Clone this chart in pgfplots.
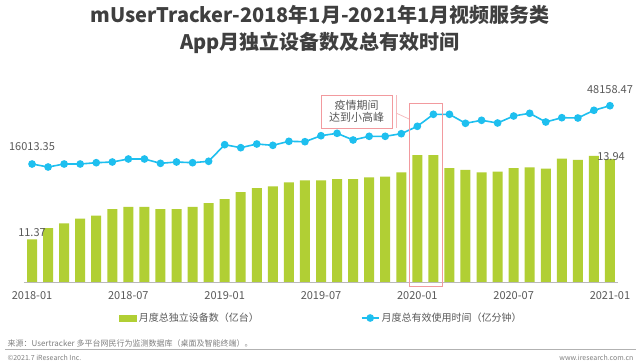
\documentclass[border=0pt]{standalone}
\usepackage{pgfplots}
\pgfplotsset{compat=1.18}
\usepackage{fontspec}
\setmainfont{Noto Sans CJK SC}
\definecolor{bargreen}{HTML}{B1CF34}
\definecolor{lineblue}{HTML}{1EBFEF}
\definecolor{txtgray}{HTML}{595959}
\definecolor{titlegray}{HTML}{3F3F3F}
\definecolor{boxred}{HTML}{F29A9E}
\begin{document}
\begin{tikzpicture}[x=1pt,y=1pt]
\path[use as bounding box, fill=white] (0,0) rectangle (640,364);
\node[font=\bfseries\fontsize{20}{24}\selectfont, text=titlegray] at (320,349) {mUserTracker-2018年1月-2021年1月视频服务类};
\node[font=\bfseries\fontsize{20}{24}\selectfont, text=titlegray] at (320,321) {App月独立设备数及总有效时间};

\begin{axis}[at={(24pt,82pt)}, anchor=south west, scale only axis,
  width=594pt, height=192pt,
  xmin=-0.5, xmax=36.5, ymin=10, ymax=16.16,
  axis x line*=bottom, axis y line=none,
  x axis line style={draw=gray!55, line width=0.8pt},
  xtick={0,6,...,36},
  xticklabels={2018-01,2018-07,2019-01,2019-07,2020-01,2020-07,2021-01},
  major tick length=0pt,
  xticklabel style={font=\fontsize{11}{13}\selectfont, text=txtgray, yshift=-6pt},
  clip=false]
\addplot[ybar, bar width=10pt, fill=bargreen, draw=none] coordinates {
(0,11.37) (1,11.73) (2,11.88) (3,12.03) (4,12.13) (5,12.34) (6,12.41) (7,12.41) (8,12.34) (9,12.34)
(10,12.41) (11,12.53) (12,12.66) (13,12.88) (14,13.01) (15,13.07) (16,13.20) (17,13.26) (18,13.26) (19,13.30)
(20,13.30) (21,13.36) (22,13.38) (23,13.52) (24,14.07) (25,14.07) (26,13.65) (27,13.60) (28,13.52) (29,13.54)
(30,13.65) (31,13.68) (32,13.64) (33,13.96) (34,13.92) (35,14.05) (36,13.94)};
\end{axis}

\begin{axis}[at={(24pt,82pt)}, anchor=south west, scale only axis,
  width=594pt, height=192pt,
  xmin=-0.5, xmax=36.5, ymin=-49052, ymax=56817,
  hide axis, clip=false,
  legend style={at={(0.5008,-0.1875)}, anchor=center, draw=none, fill=none,
    legend columns=2, font=\fontsize{10}{12}\selectfont, text=txtgray,
    /tikz/every even column/.append style={column sep=100pt}}]
\addlegendimage{area legend, fill=bargreen, draw=bargreen}
\addlegendentry{月度总独立设备数（亿台）}
\addplot[lineblue, line width=1.6pt, mark=*, mark size=3pt, mark options={fill=lineblue, draw=lineblue}] coordinates {
(0,16013.35) (1,14359) (2,16013) (3,16013) (4,16730) (5,17116) (6,18770) (7,18770) (8,16381) (9,17116)
(10,16730) (11,17502) (12,26660) (13,25006) (14,27041) (15,26311) (16,28516) (17,28309) (18,31619) (19,32936)
(20,29247) (21,31288) (22,31288) (23,32720) (24,36800) (25,43418) (26,43418) (27,38455) (28,40109) (29,38620)
(30,42480) (31,43970) (32,39172) (33,41543) (34,41378) (35,45623) (36,48158.47)};
\addlegendentry{月度总有效使用时间（亿分钟）}
\end{axis}

% data labels
\node[font=\fontsize{11}{13}\selectfont, text=txtgray] at (32,217) {16013.35};
\node[font=\fontsize{11}{13}\selectfont, text=txtgray] at (32,131) {11.37};
\node[font=\fontsize{11}{13}\selectfont, text=txtgray] at (610,274) {48158.47};
\node[font=\fontsize{11}{13}\selectfont, text=txtgray] at (611,207) {13.94};

% annotation
\draw[boxred, line width=0.8pt] (409,78) rectangle (442,261);
\draw[boxred, line width=0.8pt] (321,236) rectangle (392,269);
\draw[boxred!70, line width=0.7pt] (396,236) -- (396,269);
\draw[boxred!70, line width=0.7pt] (396,251) -- (409,245);
\node[font=\fontsize{11}{12.5}\selectfont, text=txtgray, align=center] at (356.5,252.5) {疫情期间\\达到小高峰};

% footer
\node[anchor=west, font=\fontsize{8}{9}\selectfont, text=gray] at (4,21) {来源：Usertracker 多平台网民行为监测数据库（桌面及智能终端）。};
\draw[gray!60, line width=0.8pt] (5,15) -- (636,15);
\node[anchor=west, font=\fontsize{7}{8}\selectfont, text=gray] at (4,6) {©2021.7 iResearch Inc.};
\node[anchor=east, font=\fontsize{7}{8}\selectfont, text=gray] at (637,6) {www.iresearch.com.cn};
\end{tikzpicture}
\end{document}
